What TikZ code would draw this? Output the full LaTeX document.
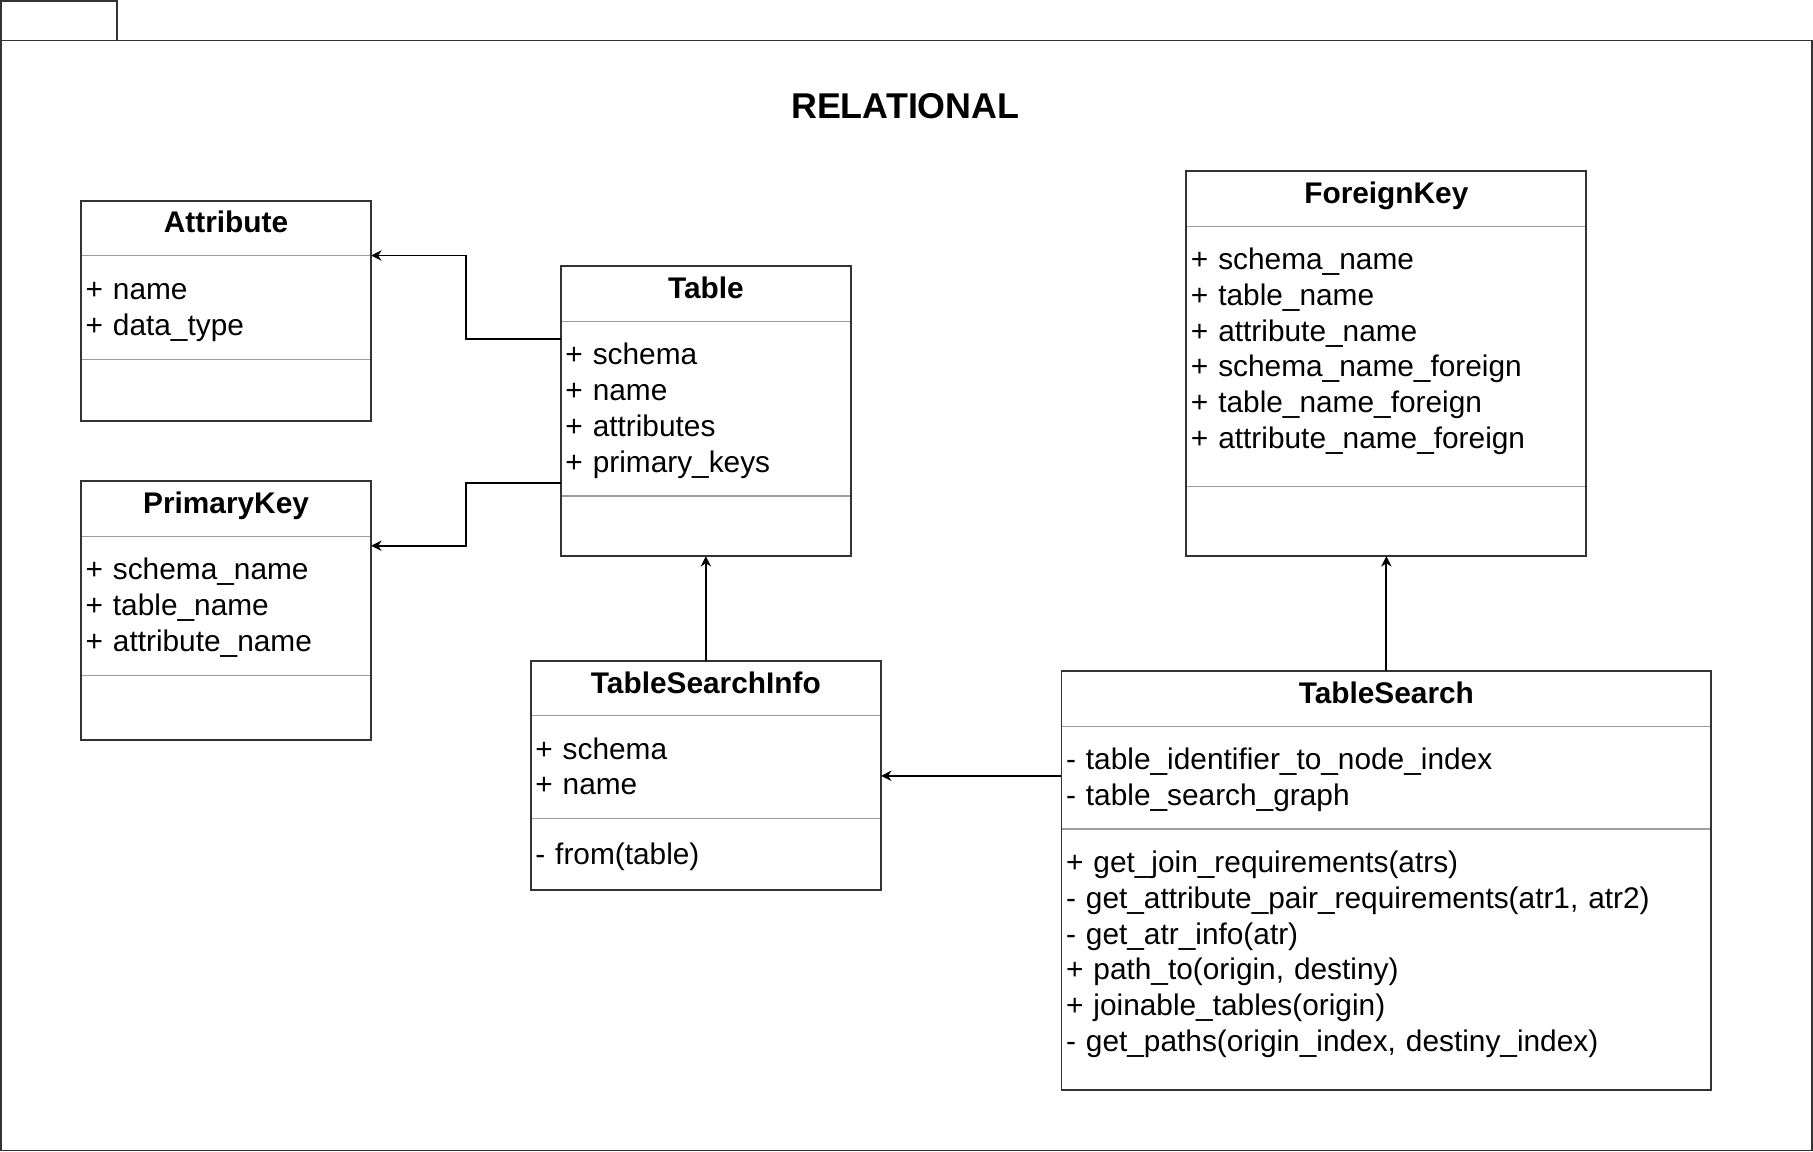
\documentclass[tikz,border=0pt]{standalone}
\usepackage{fontspec}
\setmainfont{Liberation Sans}
\usepackage{xcolor}
\usepackage{tikz}
\usetikzlibrary{positioning}
\usetikzlibrary{arrows.meta}

\definecolor{frameGray}{HTML}{333333}
\definecolor{sepGray}{HTML}{9E9E9E}

\begin{document}
\begin{tikzpicture}[x=1pt,y=-1pt]
    \tikzset{Head/.style={%
            draw=sepGray,%
            line width=1pt,%
            anchor=north west,%
            inner xsep=4pt,%
            inner ysep=0pt,%
            outer sep=0pt,%
            align=center,%
            text height=16pt,%
            text depth=8pt,%
            font=\fontsize{25.8}{31}\selectfont\bfseries,%
        },
        Part/.style={%
            draw=sepGray,%
            line width=1pt,%
            below=0pt of #1,%
            inner xsep=4pt,%
            inner ysep=0pt,%
            outer sep=0pt,%
            align=left,%
            font=\fontsize{25.8}{31}\selectfont,%
            execute at begin node={\rule{0pt}{29pt}},%
            execute at end node={\rule[-12pt]{0pt}{0pt}},%
        },
        Frame/.style={draw=frameGray,line width=1.6pt},%
        Link/.style={draw=black,line width=1.6pt,-{Stealth[length=9pt,width=9pt]}}}

    % package
    \useasboundingbox (0,0) rectangle (1568,996);
    \draw[Frame] (1,1) rectangle (101,35);
    \draw[Frame] (1,35) rectangle (1567,995);
    \node[font=\fontsize{31}{37}\selectfont\bfseries] (pkg) at (783,92) {RELATIONAL};

    % Attribute
    \node[Head,minimum width=251pt,text width=243pt,minimum height=47pt] (attr-t) at (70,174) {Attribute};
    \node[Part=attr-t,minimum width=251pt,text width=243pt,minimum height=90pt] (attr-a) {+ name\\+ data\_type};
    \node[Part=attr-a,minimum width=251pt,text width=243pt,minimum height=53pt] (attr-o) {};

    % PrimaryKey
    \node[Head,minimum width=251pt,text width=243pt,minimum height=48pt] (pk-t) at (70,416) {PrimaryKey};
    \node[Part=pk-t,minimum width=251pt,text width=243pt,minimum height=120pt] (pk-a) {+ schema\_name\\+ table\_name\\+ attribute\_name};
    \node[Part=pk-a,minimum width=251pt,text width=243pt,minimum height=56pt] (pk-o) {};

    % Table
    \node[Head,minimum width=251pt,text width=243pt,minimum height=48pt] (tbl-t) at (485,230) {Table};
    \node[Part=tbl-t,minimum width=251pt,text width=243pt,minimum height=151pt] (tbl-a) {+ schema\\+ name\\+ attributes\\+ primary\_keys};
    \node[Part=tbl-a,minimum width=251pt,text width=243pt,minimum height=52pt] (tbl-o) {};

    % ForeignKey
    \node[Head,minimum width=346pt,text width=338pt,minimum height=48pt] (fk-t) at (1026,148) {ForeignKey};
    \node[Part=fk-t,minimum width=346pt,text width=338pt,minimum height=225pt] (fk-a) {+ schema\_name\\+ table\_name\\+ attribute\_name\\+ schema\_name\_foreign\\+ table\_name\_foreign\\+ attribute\_name\_foreign\rule[-25pt]{0pt}{1pt}};
    \node[Part=fk-a,minimum width=346pt,text width=338pt,minimum height=60pt] (fk-o) {};

    % TableSearchInfo
    \node[Head,minimum width=303pt,text width=295pt,minimum height=47pt] (tsi-t) at (459,572) {TableSearchInfo};
    \node[Part=tsi-t,minimum width=303pt,text width=295pt,minimum height=89pt] (tsi-a) {+ schema\\+ name};
    \node[Part=tsi-a,minimum width=303pt,text width=295pt,minimum height=62pt] (tsi-o) {- from(table)};

    % TableSearch
    \node[Head,minimum width=562pt,text width=554pt,minimum height=48pt] (ts-t) at (918,580) {TableSearch};
    \node[Part=ts-t,minimum width=562pt,text width=554pt,minimum height=89pt] (ts-a) {- table\_identifier\_to\_node\_index\\- table\_search\_graph};
    \node[Part=ts-a,minimum width=562pt,text width=554pt,minimum height=226pt] (ts-o) {+ get\_join\_requirements(atrs)\\- get\_attribute\_pair\_requirements(atr1, atr2)\\- get\_atr\_info(atr)\\+ path\_to(origin, destiny)\\+ joinable\_tables(origin)\\- get\_paths(origin\_index, destiny\_index)\rule[-25pt]{0pt}{1pt}};

    \foreach \c in {attr,pk,tbl,fk,tsi,ts}
        \draw[Frame] (\c-t.north west) rectangle (\c-o.south east);

    % links
    \draw[Link] ([yshift=-15pt]tbl-a.north west) -- ++(-82,0) |- (attr-a.north east);
    \draw[Link] ([yshift=11pt]tbl-o.north west) -- ++(-82,0) |- ([yshift=-8pt]pk-a.north east);
    \draw[Link] (tsi-t.north) -- (tbl-o.south);
    \draw[Link] (ts-t.north) -- (fk-o.south);
    \draw[Link] ([yshift=1.5pt]ts-a.west) -- ([yshift=1.5pt]tsi-a.east |- ts-a.west);
\end{tikzpicture}
\end{document}
